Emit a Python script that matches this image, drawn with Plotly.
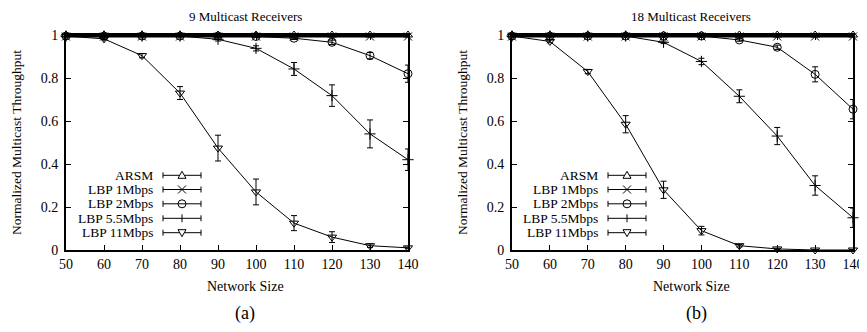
import plotly.graph_objects as go

# the page body has an 8px margin, so the figure is drawn offset by 8px
OFF = 8
W, H = 867 - OFF, 332 - 2 * OFF
sizes = [50, 60, 70, 80, 90, 100, 110, 120, 130, 140]
series_names = ["ARSM", "LBP 1Mbps", "LBP 2Mbps", "LBP 5.5Mbps", "LBP 11Mbps"]

# Panel (a): 9 receivers
a_arsm = [1.0, 1.0, 1.0, 1.0, 1.0, 1.0, 1.0, 1.0, 1.0, 1.0]
a_1m = [0.993, 0.993, 0.993, 0.993, 0.993, 0.993, 0.993, 0.993, 0.993, 0.993]
a_2m = [0.995, 0.995, 0.995, 0.995, 0.995, 0.993, 0.985, 0.966, 0.904, 0.82]
a_2m_err = [0, 0, 0, 0, 0, 0.004, 0.006, 0.01, 0.015, 0.04]
a_55m = [0.995, 0.995, 0.995, 0.995, 0.98, 0.938, 0.842, 0.718, 0.54, 0.42]
a_55m_err = [0, 0, 0, 0, 0.008, 0.012, 0.03, 0.05, 0.065, 0.05]
a_11m = [0.995, 0.982, 0.904, 0.73, 0.474, 0.27, 0.125, 0.06, 0.02, 0.01]
a_11m_err = [0, 0.004, 0.01, 0.03, 0.06, 0.06, 0.035, 0.025, 0.008, 0.004]

# Panel (b): 18 receivers
b_arsm = [1.0, 1.0, 1.0, 1.0, 1.0, 1.0, 1.0, 1.0, 1.0, 1.0]
b_1m = [0.993, 0.993, 0.993, 0.993, 0.993, 0.993, 0.993, 0.993, 0.993, 0.993]
b_2m = [0.995, 0.995, 0.995, 0.995, 0.995, 0.995, 0.977, 0.943, 0.817, 0.655]
b_2m_err = [0, 0, 0, 0, 0, 0.004, 0.006, 0.01, 0.035, 0.045]
b_55m = [0.995, 0.995, 0.995, 0.995, 0.966, 0.877, 0.715, 0.53, 0.30, 0.15]
b_55m_err = [0, 0, 0, 0, 0.006, 0.015, 0.03, 0.04, 0.045, 0.045]
b_11m = [0.995, 0.97, 0.83, 0.585, 0.28, 0.09, 0.02, 0.005, 0.0, 0.0]
b_11m_err = [0, 0.006, 0.01, 0.04, 0.04, 0.02, 0.006, 0.003, 0.002, 0.002]

x_ticks = [50, 60, 70, 80, 90, 100, 110, 120, 130, 140]
y_ticks = [0, 0.2, 0.4, 0.6, 0.8, 1]
y_tick_text = ["0", "0.2", "0.4", "0.6", "0.8", "1"]
titles = ["9 Multicast Receivers", "18 Multicast Receivers"]
captions = ["(a)", "(b)"]

symbols = ["triangle-up-open", "x-thin-open", "circle-open", "cross-thin-open", "triangle-down-open"]
FONT = "Liberation Serif"

def px(x):
    return (x - OFF) / W

def py(y):
    return 1 - (y - OFF) / H

fig = go.Figure()

panels = [
    ("x", "y", [a_arsm, a_1m, a_2m, a_55m, a_11m], [None, None, a_2m_err, a_55m_err, a_11m_err]),
    ("x2", "y2", [b_arsm, b_1m, b_2m, b_55m, b_11m], [None, None, b_2m_err, b_55m_err, b_11m_err]),
]

for xa, ya, vals, errs in panels:
    for i, (v, e) in enumerate(zip(vals, errs)):
        kw = {}
        if e is not None:
            kw["error_y"] = dict(type="data", array=e, visible=True, color="black", thickness=1, width=3)
        lw = 2 if i < 2 else 1
        fig.add_trace(go.Scatter(
            x=sizes, y=v, mode="lines+markers", name=series_names[i],
            xaxis=xa, yaxis=ya, showlegend=False, cliponaxis=False,
            line=dict(color="black", width=lw),
            marker=dict(symbol=symbols[i], size=8, color="black", line=dict(width=1, color="black")),
            **kw))

# plot areas in page pixels
plot_a = (66, 408)
plot_b = (512, 853)
top, bottom = 35, 250

axis_common = dict(showline=True, linecolor="black", linewidth=2, mirror="ticks",
                   ticks="inside", ticklen=5, tickcolor="black", tickwidth=1,
                   showgrid=False, zeroline=False, automargin=False,
                   tickfont=dict(family=FONT, size=14, color="black"))

fig.update_layout(
    width=W, height=H, margin=dict(l=0, r=0, t=0, b=0, autoexpand=False),
    paper_bgcolor="white", plot_bgcolor="white",
    font=dict(family=FONT, size=14, color="black"),
    xaxis=dict(domain=[px(plot_a[0]), px(plot_a[1])], range=[50, 140], anchor="y",
               tickvals=x_ticks, **axis_common),
    yaxis=dict(domain=[py(bottom), py(top)], range=[0, 1], anchor="x",
               tickvals=y_ticks, ticktext=y_tick_text, ticklabelstandoff=3, **axis_common),
    xaxis2=dict(domain=[px(plot_b[0]), px(plot_b[1])], range=[50, 140], anchor="y2",
                tickvals=x_ticks, **axis_common),
    yaxis2=dict(domain=[py(bottom), py(top)], range=[0, 1], anchor="x2",
                tickvals=y_ticks, ticktext=y_tick_text, ticklabelstandoff=3, **axis_common),
)

annotations = []
shapes = []

for k, (x0, x1) in enumerate([plot_a, plot_b]):
    title_x = [246, 691][k]
    annotations.append(dict(text=titles[k], x=px(title_x), y=py(16.5), xref="paper", yref="paper",
                            showarrow=False, font=dict(size=13), xanchor="center", yanchor="middle",
                            borderpad=0))
    annotations.append(dict(text="Network Size", x=px(title_x), y=py(286), xref="paper", yref="paper",
                            showarrow=False, font=dict(size=14), xanchor="center", yanchor="middle"))
    annotations.append(dict(text=captions[k], x=px([245, 696][k]), y=py(313), xref="paper", yref="paper",
                            showarrow=False, font=dict(size=18), xanchor="center", yanchor="middle",
                            borderpad=0))
    annotations.append(dict(text="Normalized Multicast Throughput", x=px([16, 462][k]), y=py(143),
                            xref="paper", yref="paper", showarrow=False, textangle=-90,
                            font=dict(size=13.5), xanchor="center", yanchor="middle"))

    # custom gnuplot-style legend
    text_r = [154, 599][k]
    l0, l1 = [(163, 201), (608, 646)][k]
    mx = (l0 + l1) / 2
    rows = [175.3, 189.5, 203.8, 218.3, 232.7]
    for i, name in enumerate(series_names):
        yy = rows[i]
        annotations.append(dict(text=name, x=px(text_r), y=py(yy), xref="paper", yref="paper",
                                showarrow=False, font=dict(size=13.5), xanchor="right", yanchor="middle",
                                borderpad=0))
        line = dict(color="black", width=1)
        shapes.append(dict(type="line", xref="paper", yref="paper", x0=px(l0), x1=px(l1),
                           y0=py(yy), y1=py(yy), line=line))
        for ex in (l0, l1):
            shapes.append(dict(type="line", xref="paper", yref="paper", x0=px(ex), x1=px(ex),
                               y0=py(yy - 3), y1=py(yy + 3), line=line))
        r = 4
        if i == 0:
            path = f"M {px(mx - r)} {py(yy + 3)} L {px(mx + r)} {py(yy + 3)} L {px(mx)} {py(yy - 4)} Z"
            shapes.append(dict(type="path", xref="paper", yref="paper", path=path,
                               line=line, fillcolor="white"))
        elif i == 1:
            shapes.append(dict(type="line", xref="paper", yref="paper", x0=px(mx - r), x1=px(mx + r),
                               y0=py(yy - r), y1=py(yy + r), line=line))
            shapes.append(dict(type="line", xref="paper", yref="paper", x0=px(mx - r), x1=px(mx + r),
                               y0=py(yy + r), y1=py(yy - r), line=line))
        elif i == 2:
            shapes.append(dict(type="circle", xref="paper", yref="paper", x0=px(mx - r), x1=px(mx + r),
                               y0=py(yy + r), y1=py(yy - r), line=line, fillcolor="white"))
            shapes.append(dict(type="line", xref="paper", yref="paper", x0=px(mx - r), x1=px(mx + r),
                               y0=py(yy), y1=py(yy), line=line))
        elif i == 3:
            shapes.append(dict(type="line", xref="paper", yref="paper", x0=px(mx), x1=px(mx),
                               y0=py(yy - r), y1=py(yy + r), line=line))
        else:
            path = f"M {px(mx - r)} {py(yy - 3)} L {px(mx + r)} {py(yy - 3)} L {px(mx)} {py(yy + 4)} Z"
            shapes.append(dict(type="path", xref="paper", yref="paper", path=path,
                               line=line, fillcolor="white"))

fig.update_layout(annotations=annotations, shapes=shapes)
fig.write_html("out.html")
